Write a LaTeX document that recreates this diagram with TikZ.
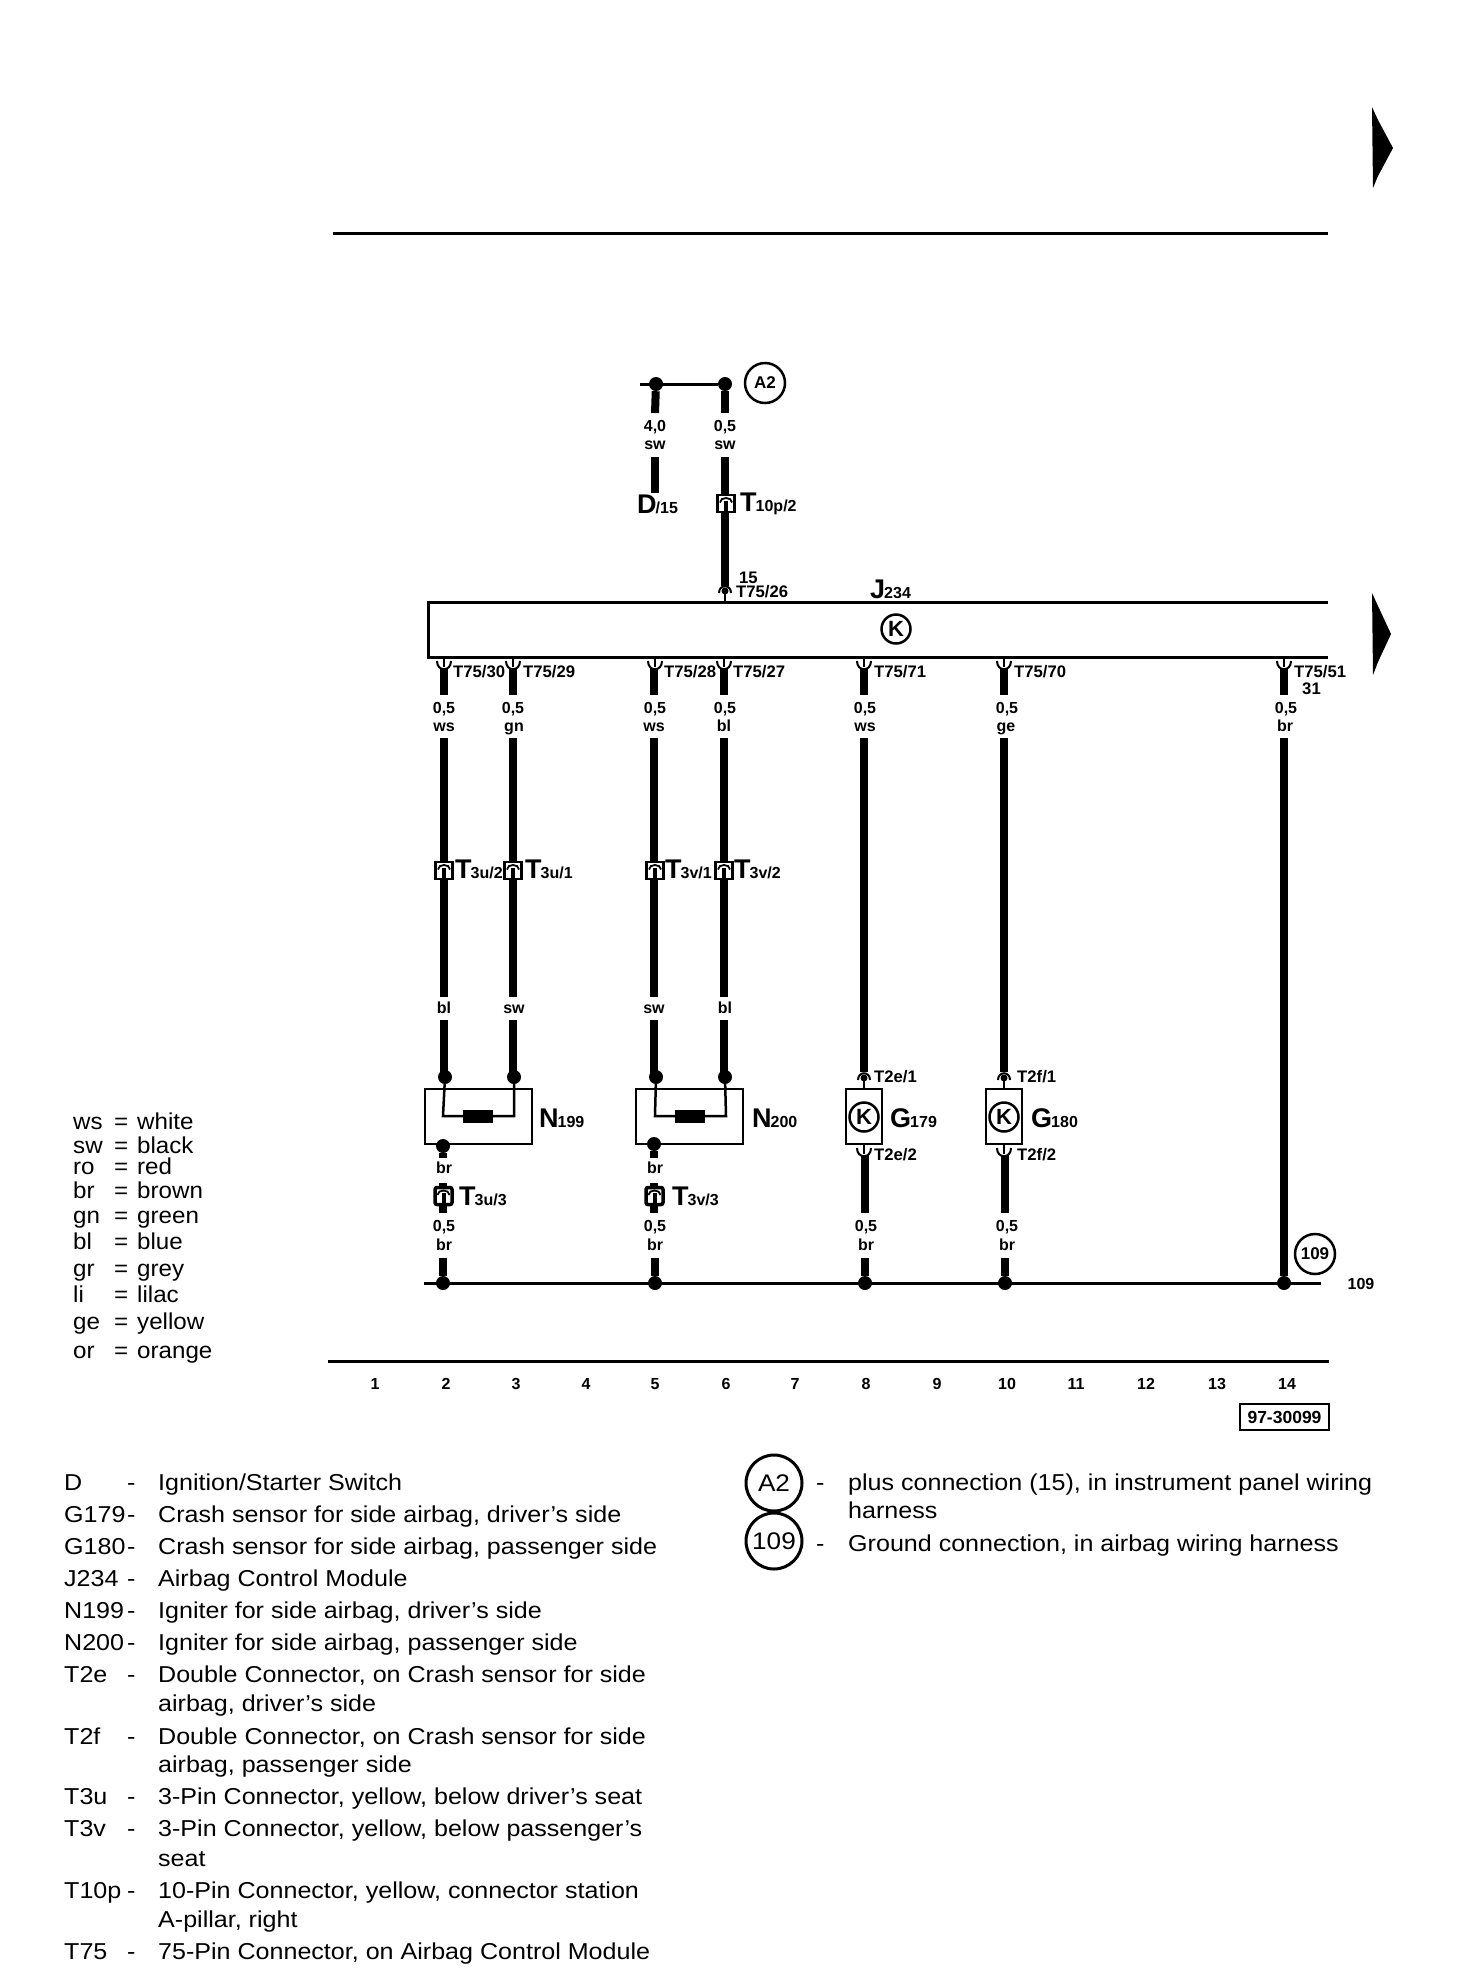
\documentclass[tikz,border=0pt]{standalone}
\usepackage{fontspec}
\setmainfont{Liberation Sans}
\newfontfamily\keyfont[FakeStretch=1.09]{Liberation Sans}
\newfontfamily\colfont[FakeStretch=1.05]{Liberation Sans}
\newcommand{\bigsub}[2]{{\fontsize{27}{27}\selectfont\bfseries #1}\kern-1pt{\fontsize{16}{16}\selectfont\bfseries #2}}
\tikzset{
  wire/.style={line width=8pt},
  thinwire/.style={line width=3pt},
  joint/.style={circle, fill, inner sep=0pt, minimum size=14pt},
  lab/.style={font=\fontsize{16}{16}\selectfont\bfseries, inner sep=0pt, text height=12pt, text depth=0pt},
  pintxt/.style={font=\fontsize{16.7}{16.7}\selectfont\bfseries, inner sep=0pt, anchor=base west},
  part/.style={inner sep=0pt, anchor=base west},
  comp/.style={draw, line width=2.5pt, inner sep=0pt, rectangle},
  sens/.style={draw, circle, line width=2.5pt, inner sep=0pt, minimum size=29pt, font=\fontsize{22}{22}\selectfont\bfseries},
  ref/.style={draw, circle, line width=2.5pt, inner sep=0pt, minimum size=40pt, font=\fontsize{17}{17}\selectfont\bfseries},
  bigref/.style={draw, circle, line width=3pt, inner sep=0pt, minimum size=56pt, font=\keyfont\fontsize{24}{24}\selectfont},
  keytxt/.style={font=\keyfont\fontsize{23}{23}\selectfont, inner sep=0pt, anchor=base west},
  coltxt/.style={font=\colfont\fontsize{23}{23}\selectfont, inner sep=0pt, anchor=base west},
  plug/.pic={
    \fill[white] (-8.5,-8.5) rectangle (8.5,8.5);
    \draw[line width=2.2pt] (-8.5,-8.5) rectangle (8.5,8.5);
    \draw[line width=1.8pt] (-6,-1) .. controls (-6,-7) and (6,-7) .. (6,-1);
    \draw[line width=4pt] (0,-3) -- (0,8.5);
  },
  plugend/.pic={
    \fill[white] (-8.5,-8.5) rectangle (8.5,8.5);
    \draw[line width=3.5pt, rounded corners=2pt] (-8.5,-8.5) rectangle (8.5,8.5);
    \draw[line width=1.8pt] (-6,-1) .. controls (-6,-7) and (6,-7) .. (6,-1);
    \draw[line width=4pt] (0,-3) -- (0,8.5);
  },
  pinup/.pic={
    \draw[line width=2pt] (0,0) -- (0,11);
    \fill (0,0) circle (3.5);
    \draw[line width=2pt] (-6,2) .. controls (-6,-7) and (6,-7) .. (6,2);
  },
  pindown/.pic={
    \draw[line width=2pt] (0,0) -- (0,10);
    \draw[line width=2pt] (-7,4) .. controls (-7,15) and (7,15) .. (7,4);
  }
}
\begin{document}
\begin{tikzpicture}[x=1pt,y=-1pt]
\useasboundingbox (0,0) rectangle (1472,1968);
\fill (1372,107) -- (1378,120) -- (1393,148) -- (1378,176) -- (1373,188) -- cycle;
\fill (1372,593) -- (1378,606) -- (1391,634) -- (1378,662) -- (1373,675) -- cycle;
\coordinate (topa) at (333,233);
\coordinate (topb) at (1328,233);
\draw[line width=3pt] (topa) -- (topb);
\coordinate (plusa) at (640,384);
\node[joint] (plusd) at (656,384){};
\node[joint] (pluse) at (725,384){};
\draw[thinwire] (plusa) -- (pluse);
\node[ref] (refa) at (765,383){A2};
\coordinate (da) at (655,413);
\coordinate (db) at (655,457);
\coordinate (dc) at (655,493);
\draw[wire] (plusd) -- (da);
\draw[wire] (db) -- (dc);
\node[lab] (dsize) at (655,425){4,0};
\node[lab] (dcol) at (655,443){sw};
\node[part] (dname) at (637,513){\bigsub{D}{/15}};
\coordinate (ea) at (725,413);
\coordinate (eb) at (725,457);
\coordinate (ec) at (725,590);
\draw[wire] (pluse) -- (ea);
\draw[wire] (eb) -- (ec);
\node[lab] (esize) at (725,425){0,5};
\node[lab] (ecol) at (725,443){sw};
\pic at (726,503.5) {plug};
\node[part] (tpname) at (740,511){\bigsub{T}{10p/2}};
\fill[white] (716,586) rectangle (734,602);
\draw[line width=2pt] (725,591) -- (725,602);
\fill (725,591) circle (3.5);
\draw[line width=2pt] (719,593) .. controls (719,584) and (731,584) .. (731,593);
\node[pintxt] (tsf) at (739,583){15};
\node[pintxt] (t26) at (736,597){T75/26};
\node[part] (jname) at (870,598){\bigsub{J}{234}};
\coordinate (ja) at (1328,602);
\coordinate (jb) at (428,602);
\coordinate (jc) at (428,657);
\coordinate (jd) at (1328,657);
\draw[line width=3pt] (ja) -- (jb) -- (jc) -- (jd);
\node[sens] (jk) at (896,629){K};
\pic at (444,657) {pindown};
\pic at (513,657) {pindown};
\pic at (655,657) {pindown};
\pic at (724,657) {pindown};
\pic at (864,657) {pindown};
\pic at (1004,657) {pindown};
\pic at (1284,657) {pindown};
\node[pintxt] (t30) at (453,677){T75/30};
\node[pintxt] (t29) at (523,677){T75/29};
\node[pintxt] (t28) at (664,677){T75/28};
\node[pintxt] (t27) at (733,677){T75/27};
\node[pintxt] (t71) at (874,677){T75/71};
\node[pintxt] (t70) at (1014,677){T75/70};
\node[pintxt] (t51) at (1294,677){T75/51};
\node[pintxt] (tto) at (1302,694){31};
\coordinate (aa) at (444,668);
\coordinate (ab) at (444,695);
\coordinate (ac) at (444,738);
\coordinate (ad) at (444,997);
\coordinate (ae) at (444,1020);
\draw[wire] (aa) -- (ab);
\draw[wire] (ac) -- (ad);
\draw[wire] (ae) -- (444,1077);
\coordinate (ba) at (513,668);
\coordinate (bb) at (513,695);
\coordinate (bc) at (513,738);
\coordinate (bd) at (513,997);
\coordinate (be) at (513,1020);
\draw[wire] (ba) -- (bb);
\draw[wire] (bc) -- (bd);
\draw[wire] (be) -- (513,1077);
\coordinate (ca) at (654,668);
\coordinate (cb) at (654,695);
\coordinate (cc) at (654,738);
\coordinate (cd) at (654,997);
\coordinate (ce) at (654,1020);
\draw[wire] (ca) -- (cb);
\draw[wire] (cc) -- (cd);
\draw[wire] (ce) -- (654,1077);
\coordinate (fa) at (724,668);
\coordinate (fb) at (724,695);
\coordinate (fc) at (724,738);
\coordinate (fd) at (724,997);
\coordinate (fe) at (724,1020);
\draw[wire] (fa) -- (fb);
\draw[wire] (fc) -- (fd);
\draw[wire] (fe) -- (724,1077);
\coordinate (ga) at (864,668);
\coordinate (gb) at (864,695);
\coordinate (gc) at (864,738);
\coordinate (gd) at (864,1072);
\draw[wire] (ga) -- (gb);
\draw[wire] (gc) -- (gd);
\coordinate (ha) at (1004,668);
\coordinate (hb) at (1004,695);
\coordinate (hc) at (1004,738);
\coordinate (hd) at (1004,1072);
\draw[wire] (ha) -- (hb);
\draw[wire] (hc) -- (hd);
\coordinate (ka) at (1284,668);
\coordinate (kb) at (1284,695);
\coordinate (kc) at (1284,738);
\draw[wire] (ka) -- (kb);
\node[lab] (asize) at (444,707){0,5};
\node[lab] (acol) at (444,725){ws};
\node[lab] (bsize) at (513,707){0,5};
\node[lab] (bcol) at (514,725){gn};
\node[lab] (csize) at (655,707){0,5};
\node[lab] (ccol) at (654,725){ws};
\node[lab] (fsize) at (725,707){0,5};
\node[lab] (fcol) at (724,725){bl};
\node[lab] (gsize) at (865,707){0,5};
\node[lab] (gcol) at (865,725){ws};
\node[lab] (hsize) at (1007,707){0,5};
\node[lab] (hcol) at (1006,725){ge};
\node[lab] (ksize) at (1286,707){0,5};
\node[lab] (kcol) at (1285,725){br};
\pic at (444,870.5) {plug};
\pic at (513,870.5) {plug};
\pic at (655,870.5) {plug};
\pic at (724,870.5) {plug};
\node[part] (tua) at (455,878){\bigsub{T}{3u/2}};
\node[part] (tub) at (525,878){\bigsub{T}{3u/1}};
\node[part] (tva) at (665,878){\bigsub{T}{3v/1}};
\node[part] (tvb) at (734,878){\bigsub{T}{3v/2}};
\node[lab] (acolb) at (444,1007){bl};
\node[lab] (bcolb) at (514,1007){sw};
\node[lab] (ccolb) at (654,1007){sw};
\node[lab] (fcolb) at (725,1007){bl};
\node[comp, minimum width=107pt, minimum height=55pt] (nl) at (478.5,1116.5){};
\node[joint] (nla) at (445,1077){};
\node[joint] (nlb) at (514,1077){};
\coordinate (nlc) at (443,1116);
\coordinate (nld) at (514,1116);
\draw[line width=2.5pt] (nla) -- (nlc) -- (nld) -- (nlb);
\node[fill, inner sep=0pt, minimum width=30pt, minimum height=13pt] (nlr) at (478,1116.5){};
\node[part] (nlname) at (539,1127){\bigsub{N}{199}};
\node[comp, minimum width=107pt, minimum height=55pt] (nr) at (689.5,1116.5){};
\node[joint] (nra) at (656,1077){};
\node[joint] (nrb) at (725,1077){};
\coordinate (nrc) at (655,1116);
\coordinate (nrd) at (726,1116);
\draw[line width=2.5pt] (nra) -- (nrc) -- (nrd) -- (nrb);
\node[fill, inner sep=0pt, minimum width=30pt, minimum height=13pt] (nrr) at (690,1116.5){};
\node[part] (nrname) at (752,1127){\bigsub{N}{200}};
\node[joint] (nlo) at (443,1146){};
\coordinate (nlp) at (443,1158);
\draw[wire] (nlo) -- (nlp);
\node[joint] (nro) at (654,1144){};
\coordinate (nrp) at (654,1158);
\draw[wire] (nro) -- (nrp);
\node[lab] (nlcol) at (444,1167){br};
\node[lab] (nrcol) at (655,1167){br};
\coordinate (ula) at (443,1183);
\coordinate (ulb) at (443,1213);
\draw[wire] (ula) -- (ulb);
\coordinate (vla) at (654,1183);
\coordinate (vlb) at (654,1213);
\draw[wire] (vla) -- (vlb);
\pic at (443.5,1196) {plugend};
\pic at (654.5,1196) {plugend};
\node[part] (tuc) at (459,1205){\bigsub{T}{3u/3}};
\node[part] (tvc) at (672,1205){\bigsub{T}{3v/3}};
\node[comp, minimum width=36pt, minimum height=55pt] (gl) at (864,1116.5){};
\node[comp, minimum width=36pt, minimum height=55pt] (gr) at (1004,1116.5){};
\node[sens] (glk) at (864,1117){K};
\node[sens] (grk) at (1004,1117){K};
\pic at (864,1078) {pinup};
\pic at (1004,1078) {pinup};
\pic at (864,1144) {pindown};
\pic at (1004,1144) {pindown};
\node[part] (glname) at (890,1127){\bigsub{G}{179}};
\node[part] (grname) at (1031,1127){\bigsub{G}{180}};
\node[pintxt] (tea) at (874,1082){T2e/1};
\node[pintxt] (teb) at (874,1160){T2e/2};
\node[pintxt] (tfa) at (1017,1082){T2f/1};
\node[pintxt] (tfb) at (1017,1160){T2f/2};
\coordinate (gla) at (865,1155);
\coordinate (glb) at (865,1213);
\draw[wire] (gla) -- (glb);
\coordinate (gra) at (1005,1155);
\coordinate (grb) at (1005,1213);
\draw[wire] (gra) -- (grb);
\node[lab] (usize) at (444,1225){0,5};
\node[lab] (ucol) at (444,1244){br};
\node[lab] (vsize) at (655,1225){0,5};
\node[lab] (vcol) at (655,1244){br};
\node[lab] (lsize) at (866,1225){0,5};
\node[lab] (lcol) at (866,1244){br};
\node[lab] (rsize) at (1007,1225){0,5};
\node[lab] (rcol) at (1007,1244){br};
\coordinate (gnda) at (424,1283);
\coordinate (gndb) at (1321,1283);
\draw[thinwire] (gnda) -- (gndb);
\node[joint] (gu) at (443,1283){};
\node[joint] (gv) at (655,1283){};
\node[joint] (gl2) at (865,1283){};
\node[joint] (gr2) at (1005,1283){};
\node[joint] (gk) at (1284,1283){};
\coordinate (gua) at (443,1258);
\coordinate (gva) at (655,1258);
\coordinate (gla2) at (865,1258);
\coordinate (gra2) at (1005,1258);
\draw[wire] (gua) -- (gu);
\draw[wire] (gva) -- (gv);
\draw[wire] (gla2) -- (gl2);
\draw[wire] (gra2) -- (gr2);
\draw[wire] (kc) -- (gk);
\node[ref] (refb) at (1315,1254){109};
\node[lab] (gndtxt) at (1361,1283){109};
\coordinate (scalea) at (328,1361.5);
\coordinate (scaleb) at (1329,1361.5);
\draw[line width=3pt] (scalea) -- (scaleb);
\node[lab] (n1) at (375,1383){1};
\node[lab] (n2) at (446,1383){2};
\node[lab] (n3) at (516,1383){3};
\node[lab] (n4) at (586,1383){4};
\node[lab] (n5) at (655,1383){5};
\node[lab] (n6) at (726,1383){6};
\node[lab] (n7) at (795,1383){7};
\node[lab] (n8) at (866,1383){8};
\node[lab] (n9) at (937,1383){9};
\node[lab] (n10) at (1007,1383){10};
\node[lab] (n11) at (1076,1383){11};
\node[lab] (n12) at (1146,1383){12};
\node[lab] (n13) at (1217,1383){13};
\node[lab] (n14) at (1287,1383){14};
\node[draw, line width=2.5pt, inner sep=0pt, minimum width=89pt, minimum height=26pt, font=\fontsize{17.5}{17.5}\selectfont\bfseries] (docno) at (1284.5,1417){97-30099};
\node[coltxt] (ca1) at (73,1129){ws};
\node[coltxt] (ce1) at (114,1129){=};
\node[coltxt] (cn1) at (137,1129){white};
\node[coltxt] (ca2) at (73,1153){sw};
\node[coltxt] (ce2) at (114,1153){=};
\node[coltxt] (cn2) at (137,1153){black};
\node[coltxt] (ca3) at (73,1174){ro};
\node[coltxt] (ce3) at (114,1174){=};
\node[coltxt] (cn3) at (137,1174){red};
\node[coltxt] (ca4) at (73,1198){br};
\node[coltxt] (ce4) at (114,1198){=};
\node[coltxt] (cn4) at (137,1198){brown};
\node[coltxt] (ca5) at (73,1223){gn};
\node[coltxt] (ce5) at (114,1223){=};
\node[coltxt] (cn5) at (137,1223){green};
\node[coltxt] (ca6) at (73,1249){bl};
\node[coltxt] (ce6) at (114,1249){=};
\node[coltxt] (cn6) at (137,1249){blue};
\node[coltxt] (ca7) at (73,1276){gr};
\node[coltxt] (ce7) at (114,1276){=};
\node[coltxt] (cn7) at (137,1276){grey};
\node[coltxt] (ca8) at (73,1302){li};
\node[coltxt] (ce8) at (114,1302){=};
\node[coltxt] (cn8) at (137,1302){lilac};
\node[coltxt] (ca9) at (73,1329){ge};
\node[coltxt] (ce9) at (114,1329){=};
\node[coltxt] (cn9) at (137,1329){yellow};
\node[coltxt] (ca10) at (73,1358){or};
\node[coltxt] (ce10) at (114,1358){=};
\node[coltxt] (cn10) at (137,1358){orange};
\node[keytxt] (la1) at (64,1490.5){D};
\node[keytxt] (ld1) at (127,1490.5){-};
\node[keytxt] (lt1) at (158,1490.5){Ignition/Starter Switch};
\node[keytxt] (la2) at (64,1522.5){G179};
\node[keytxt] (ld2) at (127,1522.5){-};
\node[keytxt] (lt2) at (158,1522.5){Crash sensor for side airbag, driver’s side};
\node[keytxt] (la3) at (64,1554.5){G180};
\node[keytxt] (ld3) at (127,1554.5){-};
\node[keytxt] (lt3) at (158,1554.5){Crash sensor for side airbag, passenger side};
\node[keytxt] (la4) at (64,1586.5){J234};
\node[keytxt] (ld4) at (127,1586.5){-};
\node[keytxt] (lt4) at (158,1586.5){Airbag Control Module};
\node[keytxt] (la5) at (64,1618.5){N199};
\node[keytxt] (ld5) at (127,1618.5){-};
\node[keytxt] (lt5) at (158,1618.5){Igniter for side airbag, driver’s side};
\node[keytxt] (la6) at (64,1650.5){N200};
\node[keytxt] (ld6) at (127,1650.5){-};
\node[keytxt] (lt6) at (158,1650.5){Igniter for side airbag, passenger side};
\node[keytxt] (la7) at (64,1682.5){T2e};
\node[keytxt] (ld7) at (127,1682.5){-};
\node[keytxt] (lt7) at (158,1682.5){Double Connector, on Crash sensor for side};
\node[keytxt] (lu7) at (158,1711){airbag, driver’s side};
\node[keytxt] (la8) at (64,1744){T2f};
\node[keytxt] (ld8) at (127,1744){-};
\node[keytxt] (lt8) at (158,1744){Double Connector, on Crash sensor for side};
\node[keytxt] (lu8) at (158,1772.5){airbag, passenger side};
\node[keytxt] (la9) at (64,1804.5){T3u};
\node[keytxt] (ld9) at (127,1804.5){-};
\node[keytxt] (lt9) at (158,1804.5){3-Pin Connector, yellow, below driver’s seat};
\node[keytxt] (la10) at (64,1836.5){T3v};
\node[keytxt] (ld10) at (127,1836.5){-};
\node[keytxt] (lt10) at (158,1836.5){3-Pin Connector, yellow, below passenger’s};
\node[keytxt] (lu10) at (158,1866){seat};
\node[keytxt] (la11) at (64,1898){T10p};
\node[keytxt] (ld11) at (127,1898){-};
\node[keytxt] (lt11) at (158,1898){10-Pin Connector, yellow, connector station};
\node[keytxt] (lu11) at (158,1927){A-pillar, right};
\node[keytxt] (la12) at (64,1959.5){T75};
\node[keytxt] (ld12) at (127,1959.5){-};
\node[keytxt] (lt12) at (158,1959.5){75-Pin Connector, on Airbag Control Module};
\node[bigref] (keya) at (774,1483){A2};
\node[keytxt] (kd1) at (816,1490){-};
\node[keytxt] (kt1) at (848,1490){plus connection (15), in instrument panel wiring};
\node[keytxt] (ku1) at (848,1518){harness};
\node[bigref] (keyb) at (774,1541){109};
\node[keytxt] (kd2) at (816,1551){-};
\node[keytxt] (kt2) at (848,1551){Ground connection, in airbag wiring harness};
\end{tikzpicture}
\end{document}
